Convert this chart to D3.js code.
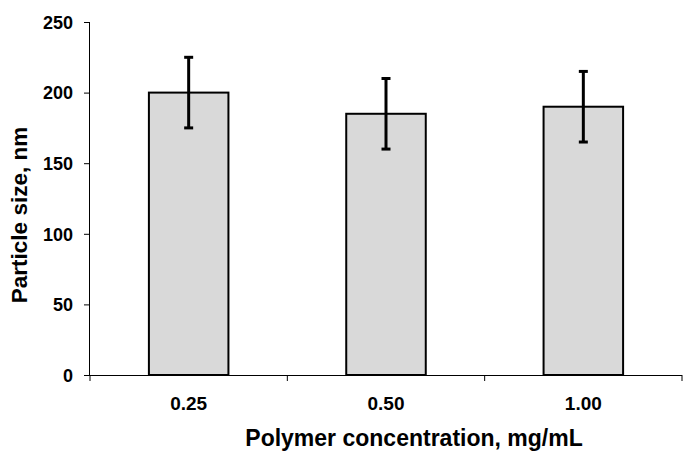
<!DOCTYPE html>
<html><head><meta charset="utf-8">
<script src="https://cdn.jsdelivr.net/npm/d3@7"></script>
<style>body{margin:0;background:#fff}svg{display:block}text{font-family:"Liberation Sans",Arial,sans-serif;font-weight:bold;fill:#000}</style>
</head><body>
<script>
const categories = ["0.25", "0.50", "1.00"];
const values = [200, 185, 190];
const errors = [25, 25, 25];
const yTicks = [0, 50, 100, 150, 200, 250];

const W = 689, H = 458;
const svg = d3.select("body").append("svg").attr("width", W).attr("height", H);
const x0 = 90, x1 = 682, yTop = 22, yBot = 375;
const x = d3.scaleBand().domain(categories).range([x0, x1]).padding(0);
const y = d3.scaleLinear().domain([0, 250]).range([yBot, yTop]);
const bw = x.bandwidth() * 0.403;

// bars
svg.selectAll("rect.bar").data(values).enter().append("rect")
  .attr("x", (d, i) => x(categories[i]) + x.bandwidth() / 2 - bw / 2)
  .attr("y", d => y(d))
  .attr("width", bw)
  .attr("height", d => y(0) - y(d))
  .attr("fill", "#d9d9d9").attr("stroke", "#000").attr("stroke-width", 2);

// error bars
const eg = svg.append("g").attr("stroke", "#000").attr("stroke-width", 3);
values.forEach((v, i) => {
  const cx = x(categories[i]) + x.bandwidth() / 2;
  eg.append("line").attr("x1", cx).attr("x2", cx).attr("y1", y(v + errors[i])).attr("y2", y(v - errors[i]));
  eg.append("line").attr("x1", cx - 4.5).attr("x2", cx + 4.5).attr("y1", y(v + errors[i])).attr("y2", y(v + errors[i]));
  eg.append("line").attr("x1", cx - 4.5).attr("x2", cx + 4.5).attr("y1", y(v - errors[i])).attr("y2", y(v - errors[i]));
});

// y axis
const ya = svg.append("g").attr("transform", `translate(${x0},0)`)
  .call(d3.axisLeft(y).tickValues(yTicks).tickSize(6).tickPadding(11).tickFormat(d3.format("d")));
ya.selectAll("text").style("font-size", "18px").attr("dy", "0.35em");
ya.select(".domain").attr("d", `M-0.5,${yTop}V${yBot}`).attr("stroke", "#000");

// x axis
const xa = svg.append("g").attr("transform", `translate(0,${yBot})`)
  .call(d3.axisBottom(x).tickSize(0).tickPadding(0));
xa.select(".domain").attr("d", `M${x0},0.5H${x1}`).attr("stroke", "#000");
xa.selectAll("text").style("font-size", "19px").attr("y", 35).attr("dy", 0);
// boundary ticks
const bounds = [x0].concat(categories.map(c => x(c) + x.bandwidth()));
xa.selectAll("line.bt").data(bounds).enter().append("line")
  .attr("x1", d => d).attr("x2", d => d).attr("y1", 0).attr("y2", 6).attr("stroke", "#000");

// titles
svg.append("text").attr("x", 414).attr("y", 446).attr("text-anchor", "middle")
  .style("font-size", "23px").text("Polymer concentration, mg/mL");
svg.append("text").attr("transform", "translate(27,215) rotate(-90)").attr("text-anchor", "middle")
  .style("font-size", "22.5px").text("Particle size, nm");
</script>
</body></html>
